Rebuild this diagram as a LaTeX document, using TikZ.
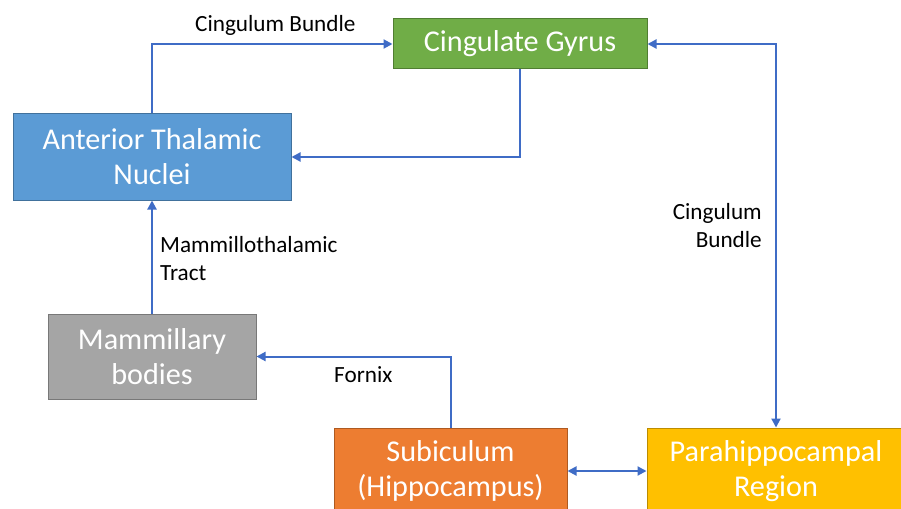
\documentclass[tikz,border=0pt]{standalone}
\usepackage{fontspec}
\setmainfont{Carlito}
\usetikzlibrary{arrows.meta}
\definecolor{lineblue}{HTML}{3F6CC6}
\definecolor{cgfill}{HTML}{70AD47}\definecolor{cgdraw}{HTML}{507E32}
\definecolor{atnfill}{HTML}{5B9BD5}\definecolor{atndraw}{HTML}{41719C}
\definecolor{mbfill}{HTML}{A5A5A5}\definecolor{mbdraw}{HTML}{787878}
\definecolor{subfill}{HTML}{ED7D31}\definecolor{subdraw}{HTML}{AE5A21}
\definecolor{parafill}{HTML}{FFC000}\definecolor{paradraw}{HTML}{BC8C00}
\tikzset{
  box/.style={rectangle, line width=1pt, text=white, align=center, inner sep=0pt,
    font=\fontsize{30.2}{35}\selectfont},
  lbl/.style={inner sep=0pt, text=black, font=\fontsize{23.2}{28}\selectfont},
  arr/.style={draw=lineblue, line width=2pt, -{Triangle[length=9pt,width=9pt]}},
  arrtwo/.style={draw=lineblue, line width=2pt, {Triangle[length=9pt,width=9pt]}-{Triangle[length=9pt,width=9pt]}}
}
\begin{document}
\begin{tikzpicture}[x=1pt,y=-1pt]
\useasboundingbox (0,0) rectangle (901,508);
\clip (0,0) rectangle (901,508);
\fill[white] (0,0) rectangle (901,508);
\node[box, fill=cgfill, draw=cgdraw, minimum width=254, minimum height=50] (cg) at (520,44) {Cingulate Gyrus};
\node[box, fill=atnfill, draw=atndraw, minimum width=278, minimum height=86] (atn) at (152,157) {Anterior Thalamic\\Nuclei};
\node[box, fill=mbfill, draw=mbdraw, minimum width=208, minimum height=85] (mb) at (152,356.5) {Mammillary\\bodies};
\node[box, fill=subfill, draw=subdraw, minimum width=233, minimum height=86] (sub) at (450.5,471) {Subiculum\\(Hippocampus)};
\node[box, fill=parafill, draw=paradraw, minimum width=258, minimum height=86] (para) at (776,471) {Parahippocampal\\Region};

\draw[arr] (atn.north) |- (cg.west);
\draw[arr] (cg.south) |- (atn.east);
\draw[arr] (mb.north) -- (atn.south);
\draw[arr] (sub.north) |- (mb.east);
\draw[arrtwo] (cg.east) -| (para.north);
\draw[arrtwo] (sub.east) -- (para.west);

\node[lbl, anchor=base west] (l1) at (195,32) {Cingulum Bundle};
\node[lbl, anchor=base west, align=left] (l2) at (160,280) {Mammillothalamic\\Tract};
\node[lbl, anchor=base west] (l3) at (334,382) {Fornix};
\node[lbl, anchor=base east, align=right] (l4) at (762,247) {Cingulum\\Bundle};
\end{tikzpicture}
\end{document}
